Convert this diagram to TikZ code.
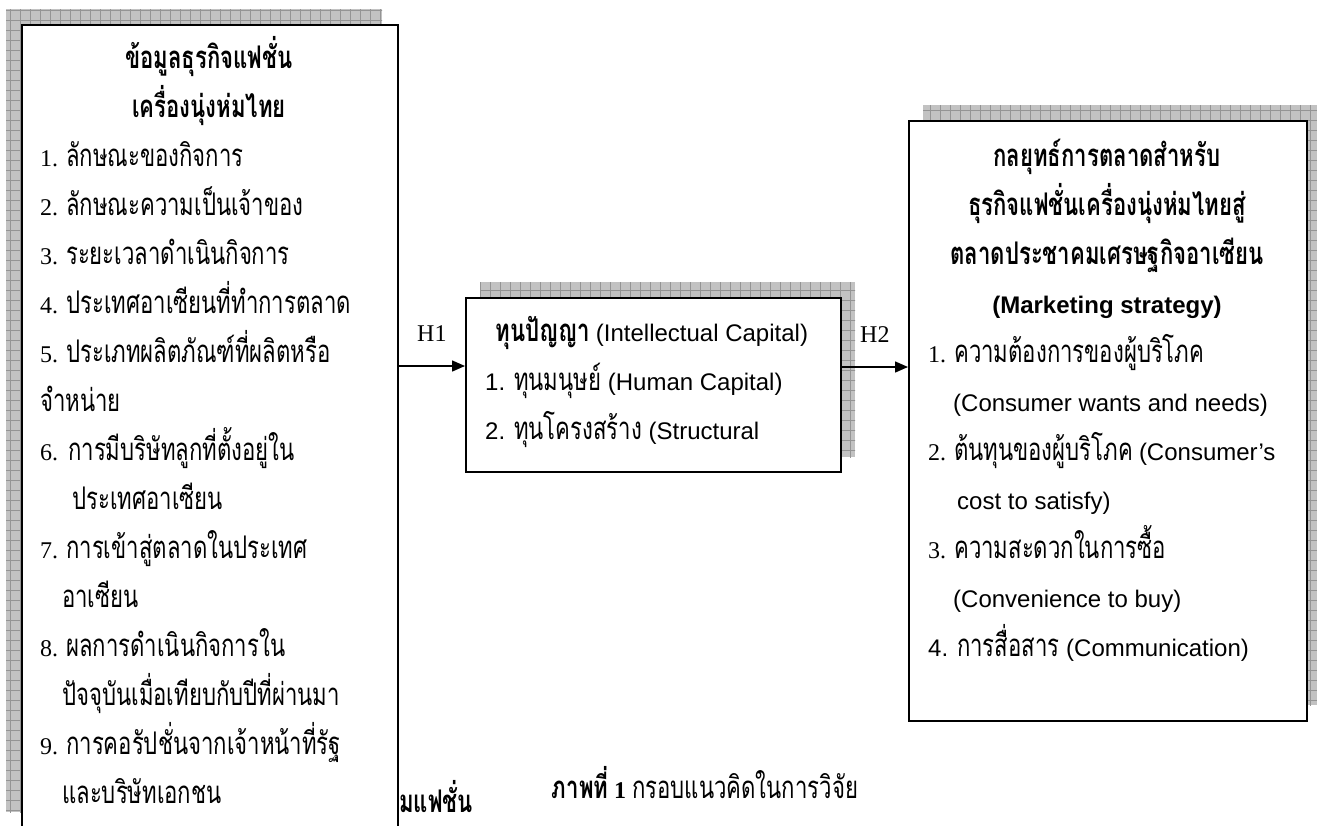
\documentclass[tikz,border=0pt]{standalone}
\usepackage{fontspec}
\setmainfont{Liberation Serif}
\setsansfont{Liberation Sans}
\newfontfamily\thaifont[Script=Thai, FakeStretch=0.71, Scale=1.3]{Loma}
\usetikzlibrary{arrows.meta}

\begin{document}
\begin{tikzpicture}[x=1pt,y=1pt]
		\tikzstyle{every node}+=[inner sep=0pt]
		\tikzstyle{shadowfill}=[fill=black!24]
		\tikzstyle{shadowgrid}=[draw=black!42, line width=0.7pt]
		\tikzstyle{panel}=[draw=black, fill=white, line width=1.8pt, anchor=north west]
		\tikzstyle{item}=[anchor=west, text height=18pt, text depth=6pt, font=\fontsize{24}{24}\selectfont]
		\tikzstyle{head}=[anchor=center, text height=18pt, text depth=6pt, font=\fontsize{24}{24}\selectfont\bfseries]
		\tikzstyle{link}=[line width=1.5pt, -{Triangle[length=13pt,width=11pt]}]
		\clip (0,0) rectangle (1317,-825);
		\fill [white] (0,0) rectangle (1317,-825);
		% hatched shadows behind the three boxes
		\foreach \xa/\ya/\xb/\yb in {6/-9/382/-812, 480/-282/855/-457, 923/-105/1321/-705} {
			\fill [shadowfill] (\xa,\ya) rectangle (\xb,\yb);
			\begin{scope}
				\clip (\xa,\ya) rectangle (\xb,\yb);
				\draw [shadowgrid, step=10] (\xa-10,\ya+10) grid (\xb+10,\yb-10);
			\end{scope}
		}
		% boxes
		\node [panel, minimum width=376pt, minimum height=810pt] (info) at (21,-24) {};
		\node [panel, minimum width=375pt, minimum height=174pt] (capital) at (465,-297) {};
		\node [panel, minimum width=398pt, minimum height=600pt] (strategy) at (908,-120) {};
		% left box
		\node [head] (infot1) at (209,-62) {\thaifont ข้อมูลธุรกิจแฟชั่น};
		\node [head] (infot2) at (209,-111) {\thaifont เครื่องนุ่งห่มไทย};
		\node [item] (info1) at (40,-160) {1. \thaifont ลักษณะของกิจการ};
		\node [item] (info2) at (40,-209) {2. \thaifont ลักษณะความเป็นเจ้าของ};
		\node [item] (info3) at (40,-258) {3. \thaifont ระยะเวลาดำเนินกิจการ};
		\node [item] (info4) at (40,-307) {4. \thaifont ประเทศอาเซียนที่ทำการตลาด};
		\node [item] (info5) at (40,-356) {5. \thaifont ประเภทผลิตภัณฑ์ที่ผลิตหรือ};
		\node [item] (info5b) at (40,-405) {\thaifont จำหน่าย};
		\node [item] (info6) at (40,-454) {6.\hspace{10pt}\thaifont การมีบริษัทลูกที่ตั้งอยู่ใน};
		\node [item] (info6b) at (72,-503) {\thaifont ประเทศอาเซียน};
		\node [item] (info7) at (40,-552) {7. \thaifont การเข้าสู่ตลาดในประเทศ};
		\node [item] (info7b) at (62,-601) {\thaifont อาเซียน};
		\node [item] (info8) at (40,-650) {8. \thaifont ผลการดำเนินกิจการใน};
		\node [item] (info8b) at (62,-699) {\thaifont ปัจจุบันเมื่อเทียบกับปีที่ผ่านมา};
		\node [item] (info9) at (40,-748) {9. \thaifont การคอรัปชั่นจากเจ้าหน้าที่รัฐ};
		\node [item] (info9b) at (62,-797) {\thaifont และบริษัทเอกชน};
		% middle box
		\node [head] (capt) at (652,-335) {{\thaifont ทุนปัญญา} {\sffamily\mdseries (Intellectual Capital)}};
		\node [item] (cap1) at (485,-384) {\sffamily 1. {\thaifont ทุนมนุษย์} (Human Capital)};
		\node [item] (cap2) at (485,-433) {\sffamily 2. {\thaifont ทุนโครงสร้าง} (Structural};
		% right box
		\node [head] (strt1) at (1107,-160) {\thaifont กลยุทธ์การตลาดสำหรับ};
		\node [head] (strt2) at (1107,-209) {\thaifont ธุรกิจแฟชั่นเครื่องนุ่งห่มไทยสู่};
		\node [head] (strt3) at (1107,-258) {\thaifont ตลาดประชาคมเศรษฐกิจอาเซียน};
		\node [head] (strt4) at (1107,-307) {\sffamily (Marketing strategy)};
		\node [item] (str1) at (928,-356) {1. \thaifont ความต้องการของผู้บริโภค};
		\node [item] (str1b) at (953,-405) {\sffamily (Consumer wants and needs)};
		\node [item] (str2) at (928,-454) {2. {\thaifont ต้นทุนของผู้บริโภค} \sffamily (Consumer’s};
		\node [item] (str2b) at (957,-503) {\sffamily cost to satisfy)};
		\node [item] (str3) at (928,-552) {3. \thaifont ความสะดวกในการซื้อ};
		\node [item] (str3b) at (953,-601) {\sffamily (Convenience to buy)};
		\node [item] (str4) at (928,-650) {\sffamily 4. {\thaifont การสื่อสาร} (Communication)};
		% hypotheses
		\coordinate (hy1) at (0,-366);
		\coordinate (hy2) at (0,-367);
		\draw [link] (info.east |- hy1) -- node [above=24pt, font=\fontsize{24}{24}\selectfont] (h1) {H1} (capital.west |- hy1);
		\draw [link] (capital.east |- hy2) -- node [above=24pt, font=\fontsize{24}{24}\selectfont] (h2) {H2} (strategy.west |- hy2);
		% caption and cut-off text
		\node [item, anchor=base west, text depth=0pt] (frag) at (399,-812) {\bfseries\thaifont มแฟชั่น};
		\node [item, anchor=center] (caption) at (705,-792) {{\bfseries\thaifont ภาพที่} \textbf{1} {\thaifont กรอบแนวคิดในการวิจัย}};
	\end{tikzpicture}
\end{document}
